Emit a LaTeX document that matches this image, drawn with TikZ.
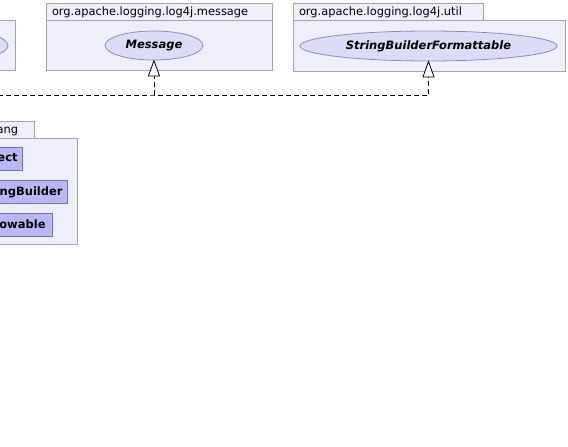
\documentclass[tikz,border=0pt]{standalone}
\usepackage{fontspec}
\setmainfont{DejaVu Sans}
\usetikzlibrary{arrows.meta, positioning, shapes.geometric}
\definecolor{cpkgfill}{HTML}{EFEFFC}
\definecolor{cpkgline}{HTML}{A3A3AD}
\definecolor{cifill}{HTML}{DCDCF8}
\definecolor{ciline}{HTML}{8C8CBC}
\definecolor{cclfill}{HTML}{B8B8F6}
\definecolor{cclline}{HTML}{7474B4}
\tikzset{
  every picture/.style={line width=0.8pt},
  pkgbody/.style={draw=cpkgline, fill=cpkgfill, anchor=north west, inner sep=0pt, outer sep=0pt},
  pkgtab/.style={draw=cpkgline, fill=cpkgfill, anchor=south west, outer sep=0pt, minimum height=17pt, inner xsep=6pt, inner ysep=0pt, font=\fontsize{11.4}{13}\selectfont, text depth=0pt},
  iface/.style={ellipse, draw=ciline, fill=cifill, inner sep=0pt, font=\fontsize{11.5}{13}\selectfont\bfseries\itshape},
  cls/.style={draw=cclline, fill=cclfill, anchor=east, minimum height=23pt, inner xsep=5pt, inner ysep=0pt, font=\fontsize{11.5}{13}\selectfont\bfseries},
  realize/.style={draw=black, line width=0.8pt, dash pattern=on 5pt off 3pt, -{Triangle[length=17pt, width=12pt, fill=white, line width=0.8pt]}},
}
\begin{document}
\begin{tikzpicture}[x=1pt, y=-1pt]
  \useasboundingbox (0,0) rectangle (568,447);
  \clip (0,0) rectangle (568,447);
  % package cut at the left edge
  \node[pkgbody, minimum width=215pt, minimum height=50pt] (leftpkg) at (-200,20) {};
  \node[iface, minimum width=98pt, minimum height=29pt] (leftif) at (-41,45.5) {};
  % org.apache.logging.log4j.message
  \node[pkgbody, minimum width=226pt, minimum height=50pt] (msgpkg) at (46,20) {};
  \node[pkgtab, minimum width=226pt, text width=214pt] (msgtab) at (msgpkg.north west) {org.apache.logging.log4j.message};
  \node[iface, minimum width=98pt, minimum height=29pt] (msg) at (154,45.5) {Message};
  % org.apache.logging.log4j.util
  \node[pkgbody, minimum width=272pt, minimum height=51pt] (utilpkg) at (293,20) {};
  \node[pkgtab, minimum width=190pt, text width=178pt] (utiltab) at (utilpkg.north west) {org.apache.logging.log4j.util};
  \node[iface, minimum width=257pt, minimum height=30pt] (sbf) at (428.5,46) {StringBuilderFormattable};
  % java.lang
  \node[pkgbody, minimum width=177pt, minimum height=106pt] (langpkg) at (-100,138) {};
  \node[pkgtab, minimum width=74pt, text width=62pt] (langtab) at (-40,138) {java.lang};
  \node[cls] (obj) at (23,158.5) {Object};
  \node[cls] (strb) at (68,192) {StringBuilder};
  \node[cls, inner xsep=7pt] (thr) at (53,224.5) {Throwable};
  % realizations
  \coordinate (src) at (-10,95);
  \coordinate (junc) at (msg.south |- src);
  \draw[realize] (src) -- (junc) -| ([yshift=1pt]sbf.south);
  \draw[realize] (junc) -- ([yshift=1pt]msg.south);
\end{tikzpicture}
\end{document}
